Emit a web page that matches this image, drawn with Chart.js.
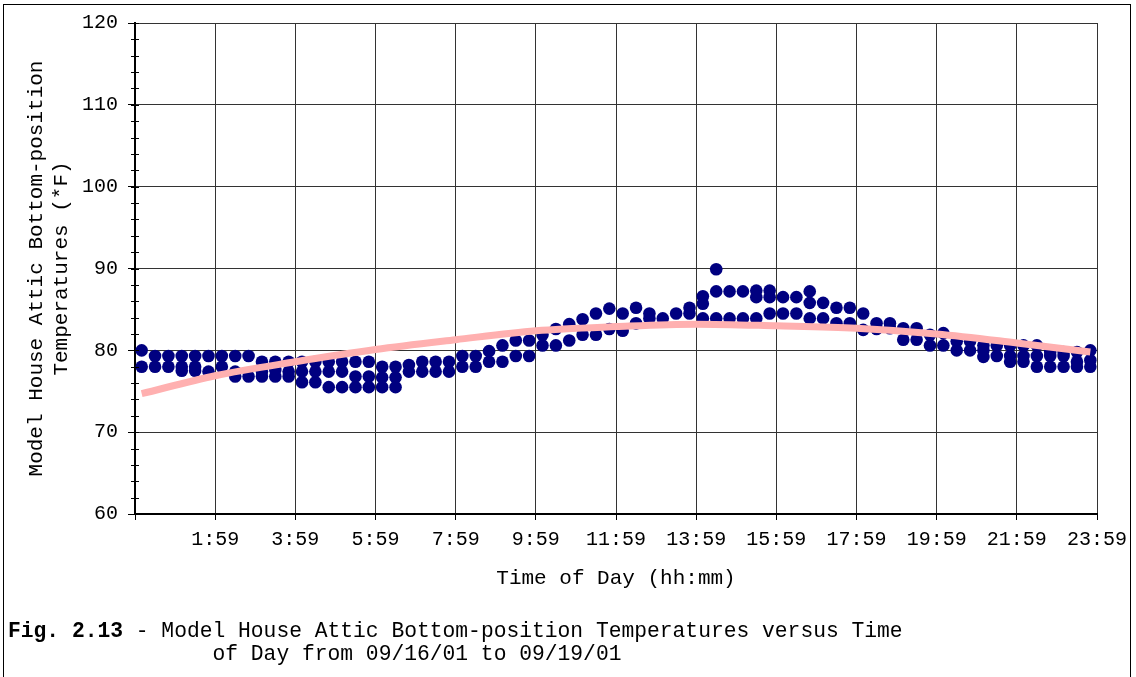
<!DOCTYPE html>
<html>
<head>
<meta charset="utf-8">
<script src="https://cdn.jsdelivr.net/npm/chart.js@4/dist/chart.umd.min.js"></script>
<style>
  html, body { margin: 0; padding: 0; background: #fff; }
  #wrap { position: relative; width: 1136px; height: 677px; overflow: hidden; }
  #frame { position: absolute; left: 3px; top: 4px; width: 1126px; height: 700px; border: 1px solid #000; }
  #chart { position: absolute; left: 0; top: 0; }
  #caption { position: absolute; left: 8px; top: 620px; font-family: "Liberation Mono", monospace;
             font-size: 21.3px; line-height: 23px; white-space: pre; color: #000; }
</style>
</head>
<body>
<div id="wrap">
  <div id="frame"></div>
  <canvas id="chart" width="1136" height="677"></canvas>
  <div id="caption"><b>Fig. 2.13</b> - Model House Attic Bottom-position Temperatures versus Time
                of Day from 09/16/01 to 09/19/01</div>
</div>
<script>
// time of day of each reading, minutes after midnight
const minutes = [10, 30, 50, 70, 90, 110, 130, 150, 170, 190, 210, 230,
  250, 270, 290, 310, 330, 350, 370, 390, 410, 430, 450, 470,
  490, 510, 530, 550, 570, 590, 610, 630, 650, 670, 690, 710,
  730, 750, 770, 790, 810, 830, 850, 870, 890, 910, 930, 950,
  970, 990, 1010, 1030, 1050, 1070, 1090, 1110, 1130, 1150, 1170, 1190,
  1210, 1230, 1250, 1270, 1290, 1310, 1330, 1350, 1370, 1390, 1410, 1430];

// readings seen at each time (top, middle, bottom dot), *F
const upperTemps = [80.0, 79.3, 79.3, 79.3, 79.3, 79.3, 79.3, 79.3, 79.3, 78.6, 78.6, 78.6,
  78.6, 78.6, 78.6, 78.6, 78.6, 78.6, 78.0, 78.0, 78.2, 78.6, 78.6, 78.6,
  79.3, 79.3, 79.9, 80.6, 81.2, 81.2, 81.9, 82.6, 83.2, 83.8, 84.5, 85.1,
  84.5, 85.2, 84.5, 83.9, 84.5, 85.2, 86.6, 89.9, 87.2, 87.2, 87.3, 87.3,
  86.5, 86.5, 87.2, 85.8, 85.2, 85.2, 84.5, 83.3, 83.3, 82.7, 82.7, 81.9,
  82.1, 81.1, 81.1, 80.6, 80.6, 80.6, 80.6, 80.6, 79.8, 79.8, 79.8, 80.0];

const middleTemps = [null, null, null, 78.0, 78.0, null, null, 77.4, null, 77.4, 77.6, 77.4,
  77.4, 77.4, 77.4, 77.4, 76.8, 76.8, 76.7, 76.7, null, null, null, null,
  null, null, null, null, null, null, null, null, null, null, null, null,
  null, null, null, null, null, null, 85.7, 87.2, null, null, 86.5, 86.5,
  null, null, 85.8, null, null, null, null, null, null, null, null, null,
  null, null, null, 80.0, null, 79.3, 79.3, 79.3, 79.3, 79.3, 78.6, 78.8];

const lowerTemps = [78.0, 78.0, 78.0, 77.5, 77.5, 77.4, 78.0, 76.8, 76.8, 76.8, 76.8, 76.8,
  76.1, 76.1, 75.5, 75.5, 75.5, 75.5, 75.5, 75.5, 77.4, 77.4, 77.4, 77.4,
  78.0, 78.0, 78.6, 78.6, 79.3, 79.3, 80.6, 80.6, 81.2, 81.9, 81.9, 82.6,
  82.4, 83.3, 83.9, null, null, 84.5, 83.9, 83.9, 83.9, 83.9, 83.9, 84.5,
  84.5, 84.5, 83.9, 83.9, 83.3, 83.3, 82.5, 82.6, 82.7, 81.3, 81.3, 80.6,
  80.6, 80.0, 80.0, 79.2, 79.3, 78.6, 78.6, 78.0, 78.0, 78.0, 78.0, 78.0];

// pink trend curve
const trendMinutes = [10, 120, 240, 360, 480, 600, 720, 840, 960, 1080, 1200, 1320, 1430];
const trendTemps = [74.7, 76.9, 78.6, 80.1, 81.3, 82.4, 82.9, 83.2, 83.0, 82.7, 82.0, 80.9, 79.8];

const yMinorStep = 2;

function points(temps) {
  const out = [];
  temps.forEach(function (v, i) {
    if (v !== null) out.push({ x: minutes[i], y: v });
  });
  return out;
}

function timeLabel(v) {
  if (v === 0) return '';
  const m = v - 1;
  return Math.floor(m / 60) + ':' + String(m % 60).padStart(2, '0');
}

// small tick marks across the y axis
const minorTicks = {
  id: 'minorTicks',
  afterDraw(chart) {
    const ys = chart.scales.y, ctx = chart.ctx, x0 = chart.chartArea.left;
    ctx.save();
    ctx.strokeStyle = '#000';
    ctx.lineWidth = 1;
    for (let v = ys.min; v <= ys.max; v += yMinorStep) {
      const py = Math.round(ys.getPixelForValue(v)) + 0.5;
      ctx.beginPath();
      ctx.moveTo(x0 - 4, py);
      ctx.lineTo(x0 + 4, py);
      ctx.stroke();
    }
    ctx.restore();
  }
};

const mono = 'Liberation Mono, Courier New, monospace';
const dotStyle = { showLine: false, pointRadius: 6.3, pointHoverRadius: 6.3,
  pointBackgroundColor: '#000080', pointBorderWidth: 0, order: 1 };

new Chart(document.getElementById('chart'), {
  type: 'scatter',
  plugins: [minorTicks],
  data: {
    datasets: [
      Object.assign({ data: points(upperTemps) }, dotStyle),
      Object.assign({ data: points(middleTemps) }, dotStyle),
      Object.assign({ data: points(lowerTemps) }, dotStyle),
      {
        type: 'line',
        data: trendMinutes.map(function (t, i) { return { x: t, y: trendTemps[i] }; }),
        borderColor: '#ffb0b0',
        borderWidth: 7,
        pointRadius: 0,
        cubicInterpolationMode: 'monotone',
        fill: false,
        order: 0
      }
    ]
  },
  options: {
    responsive: false,
    animation: false,
    layout: { padding: { left: 0, top: 23, right: 39, bottom: 73 } },
    plugins: { legend: { display: false }, tooltip: { enabled: false } },
    scales: {
      x: {
        type: 'linear',
        min: 0,
        max: 1440,
        afterFit(scale) { scale.height = 90; },
        ticks: { stepSize: 120, autoSkip: false, maxRotation: 0, padding: 8,
          color: '#000', font: { family: mono, size: 20 }, callback: timeLabel },
        grid: { color: '#333', lineWidth: 1, tickLength: 6, tickColor: '#000' },
        border: { color: '#000', width: 2 },
        title: { display: true, text: 'Time of Day (hh:mm)', color: '#000',
          font: { family: mono, size: 21 }, padding: { top: 0, bottom: 13 } }
      },
      y: {
        min: 60,
        max: 120,
        afterFit(scale) { scale.width = 135; },
        ticks: { stepSize: 10, padding: 10, color: '#000', font: { family: mono, size: 20 } },
        grid: { color: '#333', lineWidth: 1, tickLength: 7, tickColor: '#000' },
        border: { color: '#000', width: 2 },
        title: { display: true, text: ['Model House Attic Bottom-position', 'Temperatures (*F)'],
          color: '#000', font: { family: mono, size: 21 }, padding: { top: 24, bottom: 0 } }
      }
    }
  }
});
</script>
</body>
</html>
